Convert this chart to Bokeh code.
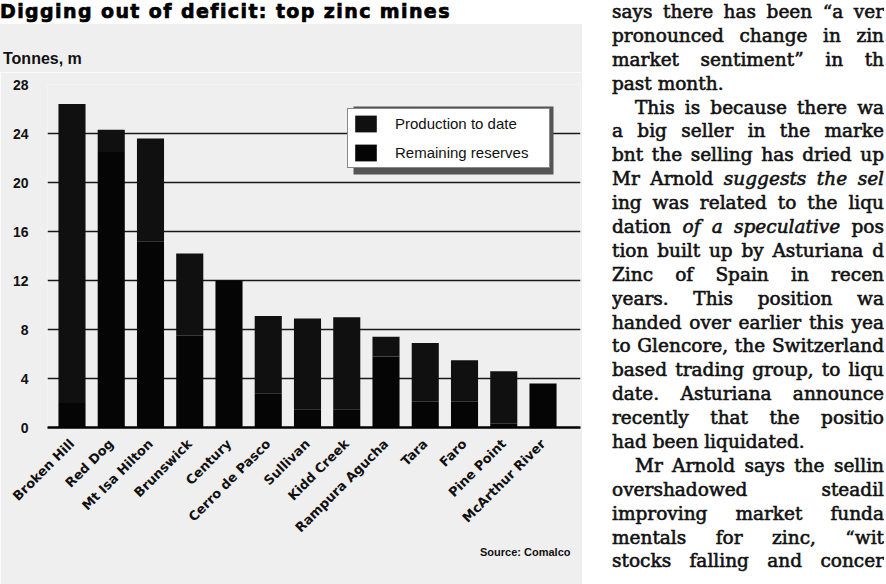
import math
from bokeh.plotting import figure
from bokeh.models import (Range1d, FixedTicker, Legend, LegendItem, BoxAnnotation,
                          ColumnDataSource, Div, Title)
from bokeh.layouts import row, column
from bokeh.embed import file_html
from bokeh.resources import INLINE

# ---------------- data ----------------
title_text = "Digging out of deficit: top zinc mines"
unit_label = "Tonnes, m"
source_text = "Source: Comalco"
mines = ["Broken Hill", "Red Dog", "Mt Isa Hilton", "Brunswick", "Century",
         "Cerro de Pasco", "Sullivan", "Kidd Creek", "Rampura Agucha", "Tara",
         "Faro", "Pine Point", "McArthur River"]
reserves = [2.0, 22.5, 15.2, 7.5, 12.0, 2.8, 1.5, 1.5, 5.8, 2.1, 2.1, 0.3, 3.6]
production = [24.4, 1.8, 8.4, 6.7, 0.0, 6.3, 7.4, 7.5, 1.6, 4.8, 3.4, 4.3, 0.0]
y_ticks = [0, 4, 8, 12, 16, 20, 24, 28]
series_names = ["Production to date", "Remaining reserves"]

article_lines = [
    "says there has been \u201ca ver",
    "pronounced change in zin",
    "market sentiment\u201d in th",
    "past month.",
    "This is because there wa",
    "a big seller in the marke",
    "bnt the selling has dried up",
    "Mr Arnold <i>suggests the sel</i>",
    "ing was related to the liqu",
    "dation <i>of a speculative</i> pos",
    "tion built up by Asturiana d",
    "Zinc of Spain in recen",
    "years. This position wa",
    "handed over earlier this yea",
    "to Glencore, the Switzerland",
    "based trading group, to liqu",
    "date. Asturiana announce",
    "recently that the positio",
    "had been liquidated.",
    "Mr Arnold says the sellin",
    "overshadowed steadil",
    "improving market funda",
    "mentals for zinc, \u201cwit",
    "stocks falling and concer",
]
para_start = [4, 19]
para_end = [3, 18]

# ---------------- sizes ----------------
W_CHART = 582
H_TOTAL = 584
H_HEAD = 72
TINT = "#efefef"
FL, FR = 47, 580          # frame left / right (px)
FT, FB = 84, 427          # frame top / bottom (px, page coords)
n = len(mines)
x_start, x_end = -0.624, (n - 1) + 0.955

# ---------------- header (title + unit) ----------------
head_html = (
    f'<div style="position:relative;width:{W_CHART}px;height:{H_HEAD}px;'
    f'background:linear-gradient(#ffffff 0px, #ffffff 24px, {TINT} 24px, {TINT} 100%);">'
    f'<div style="position:absolute;left:0px;top:0px;white-space:nowrap;'
    f'font-family:\'DejaVu Sans\';font-weight:bold;font-size:19px;line-height:23px;'
    f'letter-spacing:1.4px;color:#000;-webkit-text-stroke:0.7px #000;">{title_text}</div>'
    f'<div style="position:absolute;left:3px;top:50px;white-space:nowrap;'
    f'font-family:\'Liberation Sans\';font-weight:bold;font-size:16px;line-height:18px;'
    f'color:#111;">{unit_label}</div>'
    f'</div>'
)
header = Div(text=head_html, width=W_CHART, height=H_HEAD, margin=0)

# ---------------- chart ----------------
H_CHART = H_TOTAL - H_HEAD
p = figure(width=W_CHART, height=H_CHART, x_range=Range1d(x_start, x_end), y_range=Range1d(0, 28),
           output_backend="svg", toolbar_location=None,
           min_border_left=FL, min_border_right=W_CHART - FR,
           min_border_top=FT - H_HEAD, min_border_bottom=H_TOTAL - FB, margin=0)
p.background_fill_color = TINT
p.border_fill_color = TINT
p.outline_line_color = None

src = ColumnDataSource(dict(x=list(range(n)), mine=mines, reserves=reserves, production=production))
rs = p.vbar_stack(["reserves", "production"], x="x", width=0.69, source=src,
                  color=["#050505", "#101010"], line_color=None)

p.xaxis.ticker = FixedTicker(ticks=list(range(n)))
p.xaxis.major_label_overrides = {i: m for i, m in enumerate(mines)}
p.xaxis.major_label_orientation = math.pi / 4
p.xaxis.major_label_text_font = "DejaVu Sans"
p.xaxis.major_label_text_font_style = "bold"
p.xaxis.major_label_text_font_size = "13px"
p.xaxis.major_label_text_color = "#111111"
p.xaxis.major_label_standoff = 8
p.xaxis.major_tick_line_color = None
p.xaxis.minor_tick_line_color = None
p.xaxis.axis_line_color = "#000000"
p.xaxis.axis_line_width = 2.5

p.yaxis.ticker = FixedTicker(ticks=y_ticks)
p.yaxis.major_label_text_font = "Liberation Sans"
p.yaxis.major_label_text_font_style = "bold"
p.yaxis.major_label_text_font_size = "14px"
p.yaxis.major_label_text_color = "#111111"
p.yaxis.major_label_standoff = 13
p.yaxis.major_tick_line_color = None
p.yaxis.minor_tick_line_color = None
p.yaxis.axis_line_color = None

p.xgrid.visible = False
p.ygrid.ticker = FixedTicker(ticks=y_ticks)
p.ygrid.grid_line_color = "#1a1a1a"
p.ygrid.grid_line_width = 1.6

def dx(px):
    return x_start + (px - FL) * (x_end - x_start) / (FR - FL)

def dy(py):
    return (FB - py) * 28 / (FB - FT)

shadow = BoxAnnotation(left=dx(353), right=dx(553), top=dy(106), bottom=dy(174),
                       fill_color="#555555", fill_alpha=1.0, line_color=None)
p.add_layout(shadow)
legend = Legend(items=[LegendItem(label=series_names[0], renderers=[rs[1]]),
                       LegendItem(label=series_names[1], renderers=[rs[0]])],
                location=(300, 259), orientation="vertical",
                glyph_width=27, glyph_height=21, spacing=8, padding=4, margin=0,
                label_standoff=16, label_width=150,
                label_text_font="Liberation Sans", label_text_font_size="15px",
                label_text_color="#111111",
                border_line_color="#111111", border_line_width=1,
                background_fill_color="#ffffff", background_fill_alpha=1.0)
p.add_layout(legend)

p.add_layout(Title(text=source_text, align="right", offset=10, standoff=0,
                   text_font="Liberation Sans", text_font_style="bold",
                   text_font_size="11px", text_color="#111111"), "below")

left_col = column(header, p, spacing=0, margin=0)

# ---------------- article column ----------------
AW = 886 - W_CHART
LINE_H = 23.9
rows_html = []
for i, t in enumerate(article_lines):
    align = "left" if i in para_end else "justify"
    indent = "23px" if i in para_start else "0px"
    rows_html.append(
        f'<div style="height:{LINE_H}px;line-height:{LINE_H}px;overflow:hidden;'
        f'text-align:{align};text-align-last:{align};text-indent:{indent};">{t}</div>'
    )
art_html = (
    f'<div style="width:272px;margin-left:30px;padding-top:0px;'
    f'font-family:\'DejaVu Serif\';font-size:18.5px;color:#111;'
    f'-webkit-text-stroke:0.6px #111;">' + "".join(rows_html) + '</div>'
)
article = Div(text=art_html, width=AW, height=H_TOTAL, margin=0,
              styles={"background-color": "#ffffff", "overflow": "hidden"})

layout = row(left_col, article, spacing=0, margin=0)
open("out.html", "w").write(file_html(layout, INLINE))
